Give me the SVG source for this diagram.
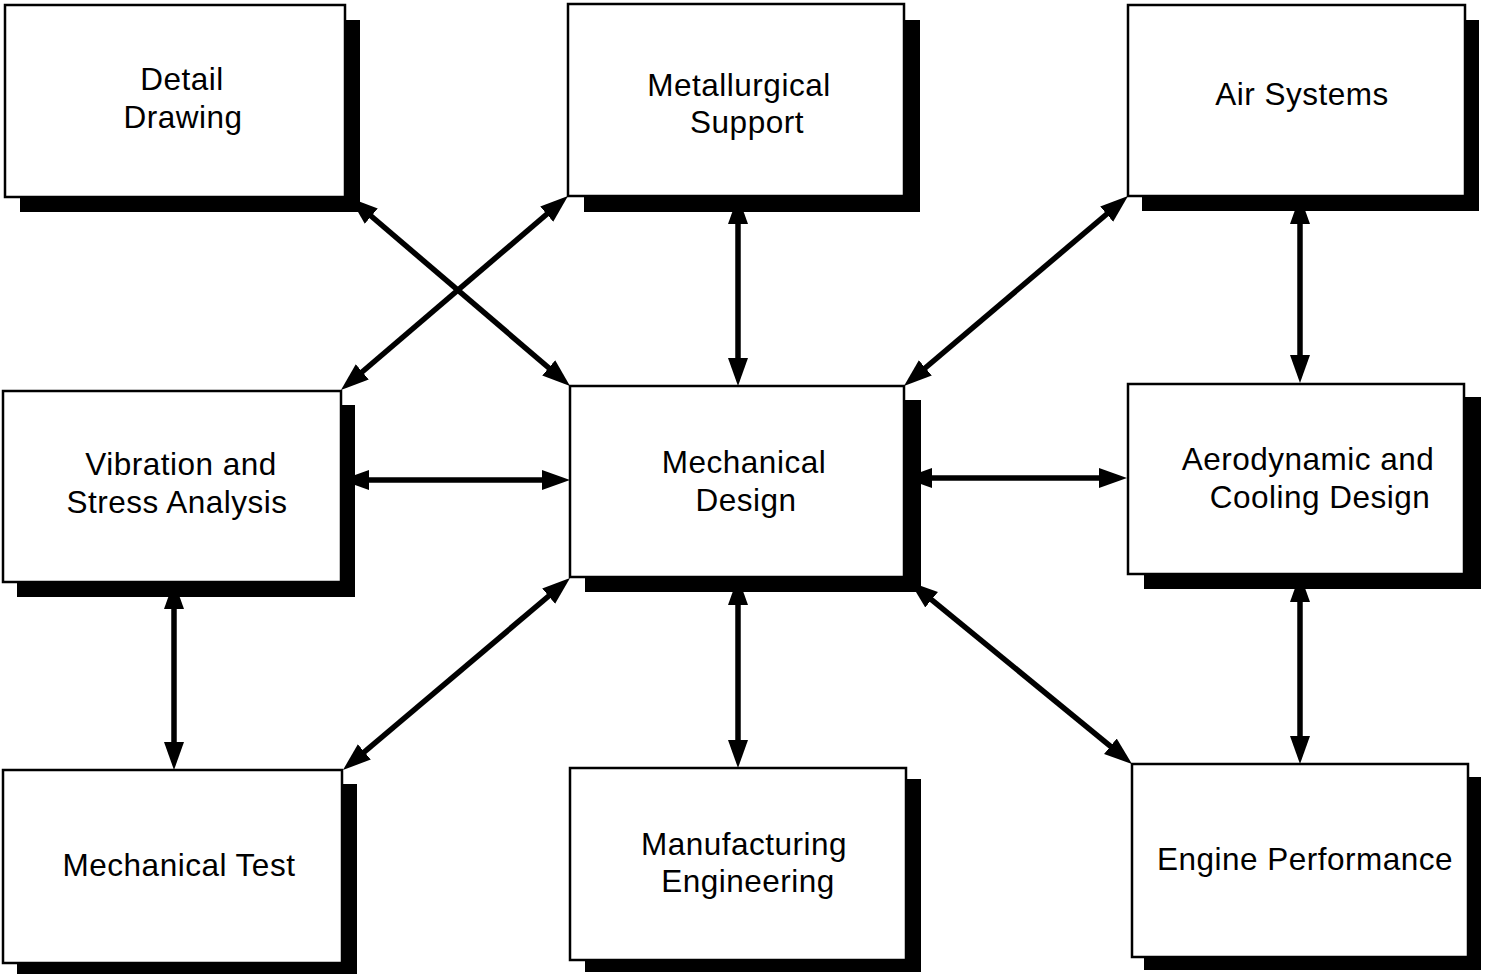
<svg xmlns="http://www.w3.org/2000/svg" width="1485" height="974" viewBox="0 0 1485 974">
  <style>
    .shadow { fill: #000; }
    .box { fill: #fff; stroke: #000; stroke-width: 2.5; }
    .label { font-family: "Liberation Sans", Arial, Helvetica, sans-serif; font-size: 31.5px; letter-spacing: 0.5px; fill: #000; text-anchor: middle; }
    .link { stroke: #000; stroke-width: 5.5; fill: none; marker-start: url(#head); marker-end: url(#head); }
  </style>
  <defs>
    <!-- filled arrowhead; tip sits 10px beyond the line end -->
    <marker id="head" markerUnits="userSpaceOnUse" markerWidth="30" markerHeight="22" refX="18" refY="10" orient="auto-start-reverse" viewBox="0 0 30 22">
      <path d="M0,0 L28,10 L0,20 Z" fill="#000"/>
    </marker>
  </defs>
  <rect width="1485" height="974" fill="#fff"/>

  <g id="detail-drawing">
    <rect class="shadow" x="20" y="20" width="340" height="192"/>
    <rect class="box" x="5" y="5" width="340" height="192"/>
    <text class="label" x="182" y="90">Detail</text>
    <text class="label" x="183" y="128">Drawing</text>
  </g>

  <g id="metallurgical-support">
    <rect class="shadow" x="584" y="20" width="336" height="192"/>
    <rect class="box" x="568" y="4" width="336" height="192"/>
    <text class="label" x="739" y="96">Metallurgical</text>
    <text class="label" x="747" y="133">Support</text>
  </g>

  <g id="air-systems">
    <rect class="shadow" x="1142" y="20" width="337" height="191"/>
    <rect class="box" x="1128" y="5" width="337" height="191"/>
    <text class="label" x="1302" y="105">Air Systems</text>
  </g>

  <g id="vibration-stress">
    <rect class="shadow" x="17" y="405" width="338" height="192"/>
    <rect class="box" x="3" y="391" width="338" height="191"/>
    <text class="label" x="181" y="475">Vibration and</text>
    <text class="label" x="177" y="513">Stress Analysis</text>
  </g>

  <g id="mechanical-design">
    <rect class="shadow" x="585" y="400" width="336" height="192"/>
    <rect class="box" x="570" y="386" width="334" height="191"/>
    <text class="label" x="744" y="473">Mechanical</text>
    <text class="label" x="746" y="511">Design</text>
  </g>

  <g id="aero-cooling">
    <rect class="shadow" x="1144" y="397" width="337" height="192"/>
    <rect class="box" x="1128" y="384" width="336" height="190"/>
    <text class="label" x="1308" y="470">Aerodynamic and</text>
    <text class="label" x="1320" y="508">Cooling Design</text>
  </g>

  <g id="mechanical-test">
    <rect class="shadow" x="17" y="784" width="340" height="193"/>
    <rect class="box" x="3" y="770" width="339" height="193"/>
    <text class="label" x="179" y="876">Mechanical Test</text>
  </g>

  <g id="manufacturing-engineering">
    <rect class="shadow" x="585" y="779" width="336" height="193"/>
    <rect class="box" x="570" y="768" width="336" height="192"/>
    <text class="label" x="744" y="855">Manufacturing</text>
    <text class="label" x="748" y="892">Engineering</text>
  </g>

  <g id="engine-performance">
    <rect class="shadow" x="1144" y="777" width="337" height="193"/>
    <rect class="box" x="1132" y="764" width="336" height="193"/>
    <text class="label" x="1305" y="870">Engine Performance</text>
  </g>

  <g id="connectors">
    <!-- diagonals -->
    <line class="link" x1="357.6" y1="204.5" x2="562.4" y2="379.5"/>
    <line class="link" x1="560.4" y1="202.5" x2="348.6" y2="383.5"/>
    <line class="link" x1="1120.4" y1="202.5" x2="911.6" y2="379.5"/>
    <line class="link" x1="562.4" y1="584.5" x2="350.6" y2="763.5"/>
    <line class="link" x1="917.7" y1="588.3" x2="1124.3" y2="757.7"/>
    <!-- verticals -->
    <line class="link" x1="738" y1="206" x2="738" y2="376"/>
    <line class="link" x1="1300" y1="206" x2="1300" y2="373"/>
    <line class="link" x1="174" y1="591" x2="174" y2="760"/>
    <line class="link" x1="738" y1="587" x2="738" y2="758"/>
    <line class="link" x1="1300" y1="584" x2="1300" y2="754"/>
    <!-- horizontals -->
    <line class="link" x1="351" y1="480" x2="560" y2="480"/>
    <line class="link" x1="914" y1="478" x2="1117" y2="478"/>
  </g>
</svg>
